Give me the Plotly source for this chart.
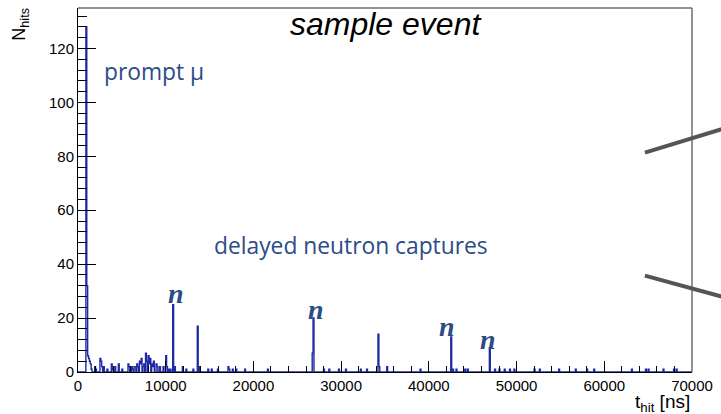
import numpy as np
import plotly.graph_objects as go

# Hit-time histogram of one event: non-empty 100 ns bins (left edge, ns) and hit counts
bin_width = 100
t_max = 70000
hit_bin_start = [
    900, 1000, 1100, 1200, 1300, 1400, 1500, 1900, 2000, 2500, 2600, 2700, 2900,
    3300, 3800, 3900, 4200, 4600, 5000, 5700, 5800, 6100, 6200, 6400, 6500, 6700,
    6800, 7000, 7100, 7200, 7400, 7500, 7700, 7800, 8000, 8100, 8200, 8400, 8500,
    8600, 8900, 9000, 9300, 9700, 10000, 10100, 10300, 10500, 10800, 11000, 11900,
    12300, 13100, 13600, 13800, 14800, 15200, 15900, 17100, 17200, 17600, 18000,
    19000, 21600, 26700, 26800, 28000, 28600, 29700, 30500, 32200, 32900, 34200,
    34300, 35200, 39000, 42500, 42700, 43100, 44100, 44400, 46900, 47500, 48000,
    48600, 49200, 49700, 52000, 52600, 54800, 56700, 58000, 58800, 63100, 64700,
    65000, 66700, 67900, 68200,
]
hit_counts = [
    128, 32, 6, 5, 4, 3, 1, 2, 1, 5, 4, 2, 2,
    1, 3, 1, 2, 3, 1, 3, 2, 2, 1, 2, 2, 3,
    2, 4, 3, 5, 2, 3, 7, 4, 6, 3, 5, 3, 2,
    4, 3, 2, 2, 2, 6, 2, 1, 1, 25, 2, 2,
    1, 1, 17, 2, 1, 1, 1, 2, 1, 1, 1,
    1, 1, 7, 20, 1, 1, 1, 1, 1, 1, 14,
    2, 2, 1, 13, 1, 1, 1, 1, 9, 1, 1,
    1, 1, 1, 1, 1, 1, 1, 1, 1, 1, 1,
    1, 1, 1, 1,
]

# Neutron-capture markers (time in ns, height in hits)
n_label_t = [11180, 27100, 42030, 46790]
n_label_y = [29.1, 23.3, 17.0, 12.1]

# Full histogram with empty bins
edges = np.arange(0, t_max + bin_width, bin_width)
counts = np.zeros(len(edges) - 1)
for t, c in zip(hit_bin_start, hit_counts):
    counts[int(t // bin_width)] = c
step_y = np.append(counts, counts[-1])

navy = "#2b4c86"
hist_color = "#1c2aa3"
frame_gray = "#6e6e6e"

fig = go.Figure()
fig.add_trace(go.Scatter(
    x=edges, y=step_y, mode="lines", line=dict(color=hist_color, width=1.4, shape="hv"),
    hoverinfo="skip", showlegend=False,
))

tick_font = dict(family="Liberation Sans, Arial, sans-serif", size=15, color="black")

fig.update_layout(
    width=721, height=414,
    margin=dict(l=78, r=26, t=8, b=42),
    plot_bgcolor="white", paper_bgcolor="white",
    showlegend=False,
    xaxis=dict(
        range=[0, t_max], showgrid=False, zeroline=False,
        showline=True, linecolor="black", linewidth=1,
        ticks="inside", ticklen=11, tickwidth=1, tickcolor="black",
        tick0=0, dtick=10000, tickformat="d", tickfont=tick_font,
        minor=dict(ticks="inside", ticklen=6, dtick=2000, tickcolor="black", tickwidth=1, showgrid=False),
    ),
    yaxis=dict(
        range=[0, 135], showgrid=False, zeroline=False,
        showline=True, linecolor="black", linewidth=1,
        ticks="inside", ticklen=18, tickwidth=1, tickcolor="black",
        tick0=0, dtick=20, tickfont=tick_font,
        minor=dict(ticks="inside", ticklen=9, dtick=4, tickcolor="black", tickwidth=1, showgrid=False),
    ),
)

# Top and right frame edges
fig.add_shape(type="line", xref="paper", yref="paper", x0=0, x1=1, y0=1, y1=1,
              line=dict(color=frame_gray, width=1.5))
fig.add_shape(type="line", xref="paper", yref="paper", x0=1, x1=1, y0=0, y1=1,
              line=dict(color=frame_gray, width=1.5))

# Pointer lines leaving the plot on the right
fig.add_shape(type="line", xref="paper", yref="paper", x0=0.9233, y0=0.6025, x1=1.05, y1=0.668,
              line=dict(color="#555555", width=4))
fig.add_shape(type="line", xref="paper", yref="paper", x0=0.9233, y0=0.2646, x1=1.05, y1=0.2065,
              line=dict(color="#555555", width=4))

label_font = dict(family="Open Sans, sans-serif", size=22.8, color=navy)

annotations = [
    dict(text="sample event", xref="paper", yref="paper", x=0.5, y=0.956,
         xanchor="center", yanchor="middle", showarrow=False,
         font=dict(family="Liberation Sans, Arial, sans-serif", size=32, color="black", style="italic")),
    dict(text="prompt μ", xref="x", yref="y", x=2700, y=111.5,
         xanchor="left", yanchor="middle", showarrow=False, font=label_font),
    dict(text="delayed neutron captures", xref="x", yref="y", x=15300, y=47,
         xanchor="left", yanchor="middle", showarrow=False, font=label_font),
    dict(text="N<sub>hits</sub>", xref="paper", yref="paper", x=-0.094, y=0.955,
         xanchor="center", yanchor="middle", textangle=-90, showarrow=False,
         font=dict(family="Liberation Sans, Arial, sans-serif", size=18, color="black")),
    dict(text="t<sub>hit</sub> [ns]", xref="paper", yref="paper", x=1.0, y=-0.085,
         xanchor="right", yanchor="middle", showarrow=False,
         font=dict(family="Liberation Sans, Arial, sans-serif", size=19, color="black")),
]
for t, y in zip(n_label_t, n_label_y):
    annotations.append(dict(
        text="<b><i>n</i></b>", xref="x", yref="y", x=t, y=y,
        xanchor="center", yanchor="middle", showarrow=False,
        font=dict(family="Liberation Serif, DejaVu Serif, serif", size=28, color=navy),
    ))
fig.update_layout(annotations=annotations)

fig.write_html("out.html")
